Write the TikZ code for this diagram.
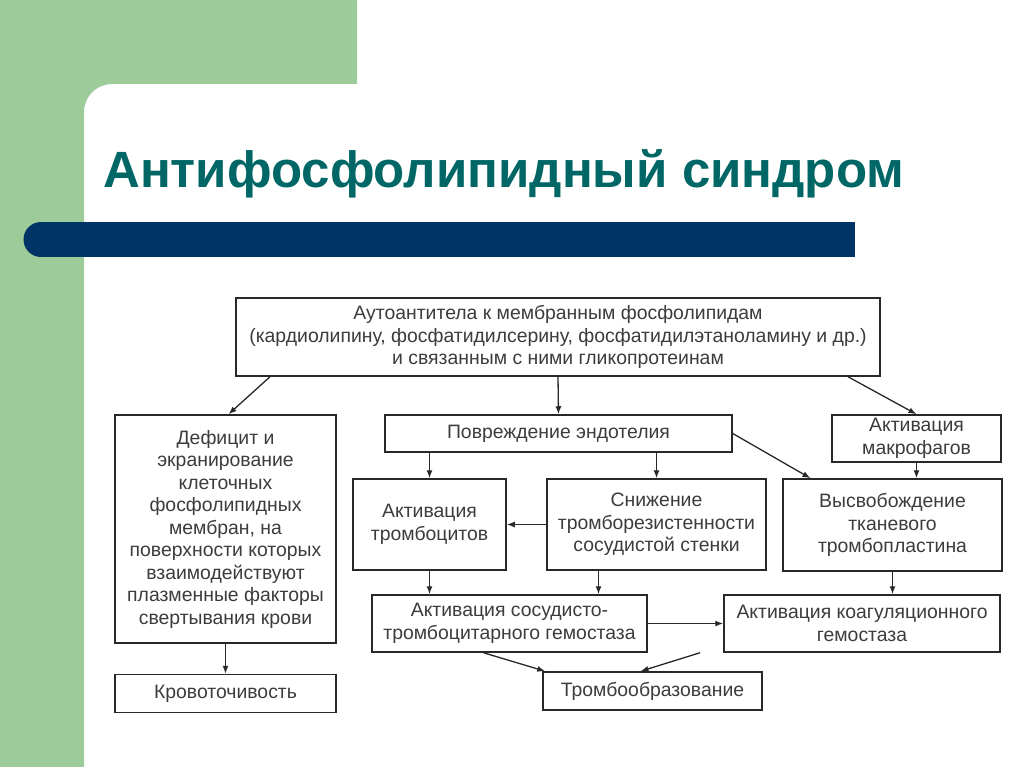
\documentclass[tikz,border=0pt]{standalone}
\usepackage{fontspec}
\setmainfont{Liberation Sans}
\usetikzlibrary{arrows.meta,positioning}
\definecolor{slidegreen}{RGB}{157,203,154}
\definecolor{barnavy}{RGB}{0,51,102}
\definecolor{titleteal}{RGB}{0,102,102}
\definecolor{inkgray}{RGB}{40,40,40}
\definecolor{txtgray}{RGB}{60,60,60}

\begin{document}
\begin{tikzpicture}[
  x=1pt, y=-1pt,
  box/.style={draw=inkgray, line width=1.5pt, inner sep=2pt, align=center,
              text=txtgray, font=\fontsize{19.4}{22.5}\selectfont},
  arr/.style={-{Latex[length=8pt,width=6pt]}, draw=inkgray, line width=1.3pt}
]
\useasboundingbox (0,0) rectangle (1024,767);

% --- Slide background ---
\fill[white] (0,0) rectangle (1024,767);
\fill[slidegreen] (0,0) -- (357,0) -- (357,84) -- (112,84)
  .. controls (96.5,84) and (84,96.5) .. (84,112) -- (84,767) -- (0,767) -- cycle;
\fill[barnavy] (41,239.5) circle[radius=17.5];
\fill[barnavy] (41,222) rectangle (855,257);

% --- Title ---
\node[anchor=base west, inner sep=0, text=titleteal,
      font=\bfseries\fontsize{51}{60}\selectfont] (title) at (103,188)
  {Антифосфолипидный синдром};

% --- Top: autoantibodies ---
\node[box, minimum width=644pt, minimum height=78pt] (anti) at (558,337)
  {Аутоантитела к мембранным фосфолипидам\\
   (кардиолипину, фосфатидилсерину, фосфатидилэтаноламину и др.)\\
   и связанным с ними гликопротеинам};

% --- Left branch ---
\node[box, minimum width=221pt, minimum height=228pt] (deficit) at (225.5,529)
  {Дефицит и\\экранирование\\клеточных\\фосфолипидных\\мембран, на\\
   поверхности которых\\взаимодействуют\\плазменные факторы\\свертывания крови};
\node[box, minimum width=221pt, minimum height=38pt, below=30pt of deficit]
  (bleed) {Кровоточивость};

% --- Middle branch ---
\node[box, minimum width=347pt, minimum height=37pt] (endo) at (558.5,433.5)
  {Повреждение эндотелия};
\node[box, minimum width=153pt, minimum height=91pt] (plt) at (429.5,524.5)
  {Активация\\тромбоцитов};
\node[box, minimum width=219pt, minimum height=91pt] (resist) at (656.5,524.5)
  {Снижение\\тромборезистенности\\сосудистой стенки};

% --- Right branch ---
\node[box, minimum width=169pt, minimum height=47pt] (macro) at (916.5,438.5)
  {Активация\\макрофагов};
\node[box, minimum width=219pt, minimum height=92pt] (tissue) at (892.5,525)
  {Высвобождение\\тканевого\\тромбопластина};

% --- Hemostasis ---
\node[box, minimum width=275pt, minimum height=57pt] (vasc) at (509.5,623.5)
  {Активация сосудисто-\\тромбоцитарного гемостаза};
\node[box, minimum width=276pt, minimum height=57pt] (coag) at (862,623.5)
  {Активация коагуляционного\\гемостаза};
\node[box, minimum width=219pt, minimum height=38pt] (clot) at (652.5,691)
  {Тромбообразование};

% --- Arrows ---
\draw[arr] ([xshift=-288pt]anti.south) -- ([xshift=3pt]deficit.north);
\draw[arr] (anti.south) -- (endo.north);
\draw[arr] ([xshift=290pt]anti.south) -- (macro.north);
\draw[arr] (deficit.south) -- (bleed.north);

\draw[arr] (endo.south -| plt.north) -- (plt.north);
\draw[arr] (endo.south -| resist.north) -- (resist.north);
\draw[arr] (endo.east) -- ([xshift=-82pt]tissue.north);
\draw[arr] (macro.south) -- (macro.south |- tissue.north);
\draw[arr] (resist.west) -- (plt.east);

\draw[arr] (plt.south) -- (plt.south |- vasc.north);
\draw[arr] ([xshift=-58pt]resist.south) -- ([xshift=-58pt]resist.south |- vasc.north);
\draw[arr] (tissue.south) -- (tissue.south |- coag.north);
\draw[arr] (vasc.east) -- (coag.west);

\draw[arr] ([xshift=-26pt]vasc.south) -- ([xshift=3pt]clot.north west);
\draw[arr] ([xshift=-162pt]coag.south) -- ([xshift=-12pt]clot.north);
\end{tikzpicture}
\end{document}
